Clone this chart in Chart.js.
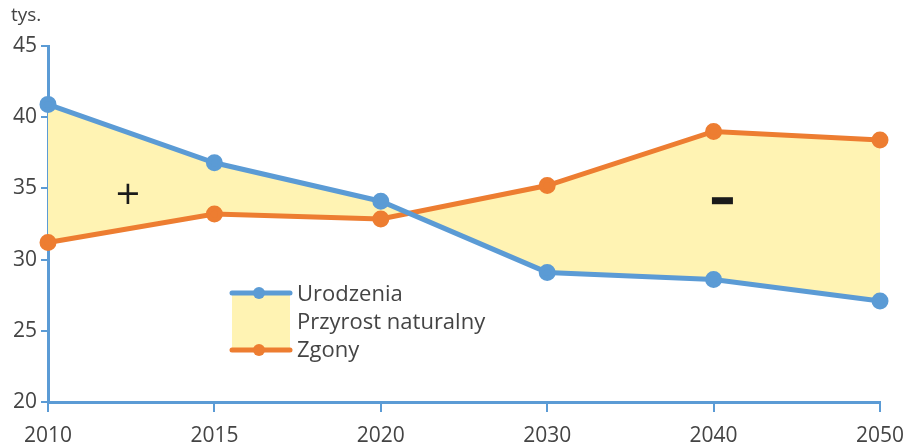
<!DOCTYPE html>
<html>
<head>
<meta charset="utf-8">
<script src="https://cdn.jsdelivr.net/npm/chart.js@4"></script>
<style>
  html, body { margin: 0; padding: 0; background: #fff; }
  #wrap { width: 907px; height: 447px; }
</style>
</head>
<body>
<div id="wrap"><canvas id="myChart"></canvas></div>
<script>
const years = ['2010', '2015', '2020', '2030', '2040', '2050'];
const urodzenia = [40.9, 36.8, 34.1, 29.1, 28.6, 27.1];
const zgony = [31.2, 33.2, 32.85, 35.2, 39.0, 38.4];
const yTicks = [20, 25, 30, 35, 40, 45];

const blue = '#5b9bd5';
const orange = '#ed7d31';
const yellow = '#fff3b3';
const txt = '#444444';
const tickFont = { family: "'Open Sans', sans-serif", size: 21 };

// extra drawings: unit label, +/- signs, legend
const extras = {
  id: 'extras',
  afterDraw(chart) {
    const c = chart.ctx;
    const x = chart.scales.x, y = chart.scales.y;
    const area = chart.chartArea;
    c.save();
    c.fillStyle = txt;
    c.font = "19px 'Open Sans', sans-serif";
    c.textAlign = 'left';
    c.textBaseline = 'middle';
    c.fillText('tys.', 11, 16);

    // signs
    c.fillStyle = '#1a1a1a';
    c.font = "32px 'DejaVu Sans', sans-serif";
    c.textAlign = 'center';
    c.fillText('+', x.getPixelForValue(0.48), y.getPixelForValue(34.5));
    c.fillRect(x.getPixelForValue(4.05) - 10, y.getPixelForValue(34.1) - 4, 21, 7);

    // legend
    const lx = area.left + 184, ly = area.top + 247;
    c.fillStyle = yellow;
    c.fillRect(lx, ly, 58, 57);
    c.lineWidth = 5;
    c.lineCap = 'round';
    [[ly, blue], [ly + 57, orange]].forEach(([yy, col]) => {
      c.strokeStyle = col;
      c.beginPath(); c.moveTo(lx, yy); c.lineTo(lx + 58, yy); c.stroke();
      c.fillStyle = col;
      c.beginPath(); c.arc(lx + 27, yy, 6, 0, Math.PI * 2); c.fill();
    });
    c.fillStyle = txt;
    c.font = "22px 'Open Sans', sans-serif";
    c.textAlign = 'left';
    c.fillText('Urodzenia', lx + 65, ly + 2);
    c.fillText('Przyrost naturalny', lx + 65, ly + 30);
    c.fillText('Zgony', lx + 65, ly + 58);
    c.restore();
  }
};

const ctx = document.getElementById('myChart');

new Chart(ctx, {
  type: 'line',
  data: {
    labels: years,
    datasets: [{
      label: 'Urodzenia',
      data: urodzenia,
      borderColor: blue,
      backgroundColor: yellow,
      pointBackgroundColor: blue,
      pointBorderColor: blue,
      borderWidth: 5,
      pointRadius: 6,
      fill: 1,
      tension: 0
    }, {
      label: 'Zgony',
      data: zgony,
      borderColor: orange,
      backgroundColor: orange,
      pointBackgroundColor: orange,
      pointBorderColor: orange,
      borderWidth: 5,
      pointRadius: 6,
      fill: false,
      tension: 0
    }]
  },
  options: {
    responsive: true,
    maintainAspectRatio: false,
    animation: false,
    layout: { padding: { top: 46, right: 27, left: 0, bottom: 0 } },
    plugins: {
      legend: { display: false },
      tooltip: { enabled: false },
      filler: { drawTime: 'beforeDatasetsDraw' }
    },
    scales: {
      x: {
        offset: false,
        grid: { display: true, drawOnChartArea: false, drawTicks: true, tickLength: 10, color: blue, lineWidth: 2 },
        border: { color: blue, width: 3 },
        ticks: { color: txt, font: tickFont, padding: 11, maxRotation: 0 },
        afterFit(s) { s.height = 45; s.paddingRight = 0; }
      },
      y: {
        min: 20,
        max: 45,
        afterBuildTicks(s) { s.ticks = yTicks.map(v => ({ value: v })); },
        grid: { display: true, drawOnChartArea: false, drawTicks: true, tickLength: 7, color: blue, lineWidth: 2 },
        border: { color: blue, width: 3 },
        ticks: { color: txt, font: tickFont, padding: 4 },
        afterFit(s) { s.width = 48; }
      }
    }
  },
  plugins: [extras]
});
</script>
</body>
</html>
